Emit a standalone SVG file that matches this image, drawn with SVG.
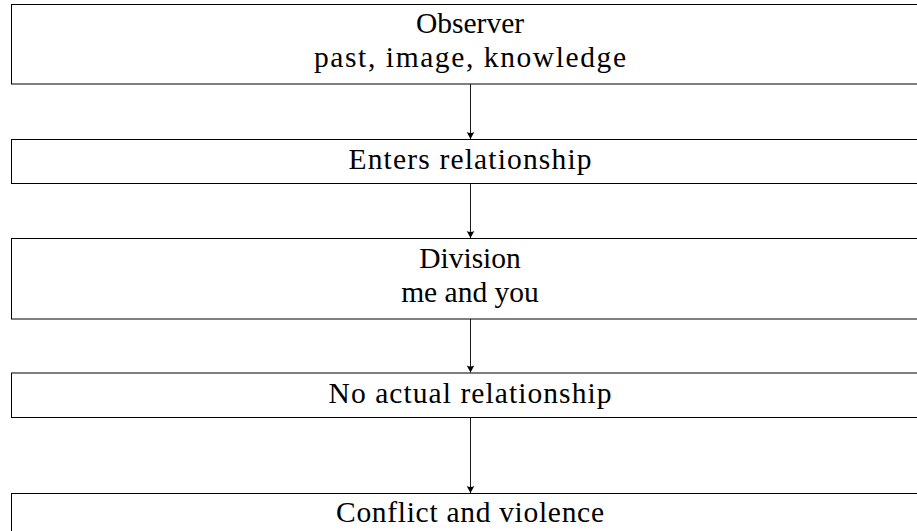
<svg xmlns="http://www.w3.org/2000/svg" width="917" height="531" viewBox="0 0 917 531">
  <style>
    .box { fill: #ffffff; stroke: #000000; stroke-width: 1; }
    .lbl { font-family: "Liberation Serif", "Times New Roman", serif; font-size: 29.5px; fill: #000000; text-anchor: middle; }
    .edge { stroke: #000000; stroke-width: 0.9; fill: none; marker-end: url(#tip); }
  </style>
  <defs>
    <marker id="tip" markerUnits="userSpaceOnUse" markerWidth="10" markerHeight="10" viewBox="-8 -5 10 10" refX="0" refY="0" orient="auto">
      <path d="M0,0 L-7,-3.8 Q-4.8,0 -7,3.8 Z" fill="#000000"/>
    </marker>
  </defs>
  <rect x="0" y="0" width="917" height="531" fill="#ffffff"/>

  <g id="observer">
    <rect class="box" x="11.5" y="4.5" width="920" height="79.5"/>
    <text class="lbl" x="470" y="33">Observer</text>
    <text class="lbl" x="470" y="67" textLength="312" lengthAdjust="spacing">past, image, knowledge</text>
  </g>

  <g id="enters">
    <rect class="box" x="11.5" y="139.5" width="920" height="44"/>
    <text class="lbl" x="470" y="169" textLength="243" lengthAdjust="spacing">Enters relationship</text>
  </g>

  <g id="division">
    <rect class="box" x="11.5" y="238.5" width="920" height="80.5"/>
    <text class="lbl" x="470" y="267.5">Division</text>
    <text class="lbl" x="470" y="301.5">me and you</text>
  </g>

  <g id="no-relationship">
    <rect class="box" x="11.5" y="373" width="920" height="44.5"/>
    <text class="lbl" x="470" y="402.5" textLength="283" lengthAdjust="spacing">No actual relationship</text>
  </g>

  <g id="conflict">
    <rect class="box" x="11.5" y="493.5" width="920" height="45"/>
    <text class="lbl" x="470" y="522" textLength="268" lengthAdjust="spacing">Conflict and violence</text>
  </g>

  <g id="connectors">
    <line class="edge" x1="470.5" y1="84" x2="470.5" y2="139"/>
    <line class="edge" x1="470.5" y1="184" x2="470.5" y2="238"/>
    <line class="edge" x1="470.5" y1="319" x2="470.5" y2="372.5"/>
    <line class="edge" x1="470.5" y1="418" x2="470.5" y2="493"/>
  </g>
</svg>
